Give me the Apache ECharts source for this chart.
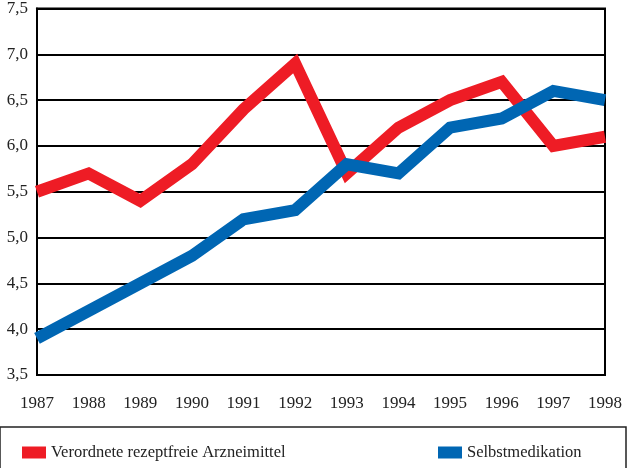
<!DOCTYPE html>
<html>
<head>
<meta charset="utf-8">
<script src="https://cdn.jsdelivr.net/npm/echarts@6/dist/echarts.min.js"></script>
<style>
  html, body { margin: 0; padding: 0; background: #fff; }
  #chart { width: 628px; height: 468px; }
</style>
</head>
<body>
<div id="chart"></div>
<script>
// data
var years = ['1987', '1988', '1989', '1990', '1991', '1992', '1993', '1994', '1995', '1996', '1997', '1998']
var rezeptfrei = [5.5, 5.7, 5.4, 5.8, 6.4, 6.9, 5.7, 6.2, 6.5, 6.7, 6.0, 6.1]
var selbst = [3.9, 4.2, 4.5, 4.8, 5.2, 5.3, 5.8, 5.7, 6.2, 6.3, 6.6, 6.5]
var names = ['Verordnete rezeptfreie Arzneimittel', 'Selbstmedikation']

var font = '"Liberation Serif", "DejaVu Serif", serif'

;(function () {
  var myChart = echarts.init(document.getElementById('chart'))
  var option = {
    animation: false,
    textStyle: { fontFamily: font },
    grid: {
      left: 37, right: 23, top: 7, bottom: 93,
      show: true,
      borderColor: '#000',
      borderWidth: 2,
      containLabel: false
    },
    // legend box
    graphic: [{
      type: 'rect',
      shape: { x: 0, y: 427, width: 626, height: 60 },
      style: { fill: 'none', stroke: '#222', lineWidth: 1.5 },
      silent: true
    }],
    legend: [
      {
        data: [names[0]],
        left: 17, top: 439,
        icon: 'rect', itemWidth: 24, itemHeight: 12,
        textStyle: { fontFamily: font, fontSize: 16.5, color: '#222' }
      },
      {
        data: [names[1]],
        left: 433, top: 439,
        icon: 'rect', itemWidth: 24, itemHeight: 12,
        textStyle: { fontFamily: font, fontSize: 16.5, color: '#222' }
      }
    ],
    xAxis: {
      type: 'category',
      data: years,
      boundaryGap: false,
      axisLine: { show: true, lineStyle: { color: '#000', width: 2 } },
      axisTick: { show: false },
      axisLabel: { color: '#222', fontSize: 17, fontFamily: font, margin: 20 },
      splitLine: { show: false }
    },
    yAxis: {
      type: 'value',
      min: 3.5, max: 7.5, interval: 0.5,
      axisLine: { show: true, lineStyle: { color: '#000', width: 2 } },
      axisTick: { show: false },
      axisLabel: {
        color: '#222', fontSize: 17, fontFamily: font, margin: 9,
        padding: [8, 0, 0, 0],
        formatter: function (v) { return v.toFixed(1).replace('.', ',') }
      },
      splitLine: { show: true, lineStyle: { color: '#000', width: 2 } }
    },
    series: [
      {
        name: names[0],
        type: 'line',
        data: rezeptfrei,
        color: '#ee1c25',
        showSymbol: false,
        symbol: 'none',
        lineStyle: { width: 12, join: 'miter', cap: 'butt' }
      },
      {
        name: names[1],
        type: 'line',
        data: selbst,
        color: '#0066b3',
        showSymbol: false,
        symbol: 'none',
        lineStyle: { width: 12, join: 'miter', cap: 'butt' }
      }
    ]
  }
  myChart.setOption(option)
})();
</script>
</body>
</html>
